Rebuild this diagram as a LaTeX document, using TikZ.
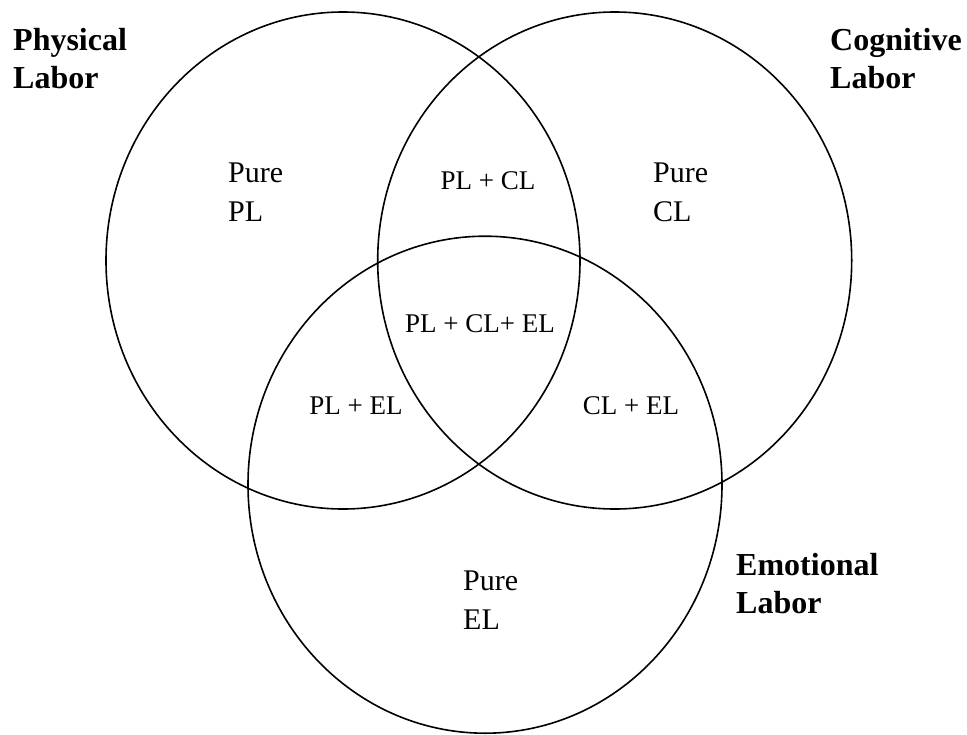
\documentclass[tikz,border=0pt]{standalone}
\usepackage{fontspec}
\setmainfont{Liberation Serif}
\usetikzlibrary{shapes.geometric}
\begin{document}
\begin{tikzpicture}[x=1pt,y=-1pt,
  setshape/.style={draw, ellipse, line width=1.6pt, inner sep=0pt,
    minimum width=474pt, minimum height=497pt},
  setname/.style={anchor=base west, inner sep=0pt, align=left,
    font=\bfseries\fontsize{32}{38}\selectfont},
  puretext/.style={anchor=base west, inner sep=0pt, align=left,
    font=\fontsize{30}{39}\selectfont},
  overlap/.style={anchor=base, inner sep=0pt,
    font=\fontsize{27}{32}\selectfont}]
  \useasboundingbox (0,0) rectangle (967,734);

  % the three labor sets
  \node[setshape] (phys) at (343,260.5) {};
  \node[setshape] (cog)  at (614.7,260.5) {};
  \node[setshape] (emo)  at (485,484.7) {};

  % set names (placed by the baseline of their last line)
  \node[setname] (physname) at (13,88)  {Physical\\Labor};
  \node[setname] (cogname)  at (830,88) {Cognitive\\Labor};
  \node[setname] (emoname)  at (736,613) {Emotional\\Labor};

  % single-set regions
  \node[puretext] (purepl) at (228,221) {Pure\\PL};
  \node[puretext] (purecl) at (653,221) {Pure\\CL};
  \node[puretext] (pureel) at (463,629) {Pure\\EL};

  % overlap regions
  \node[overlap] (plcl)   at (488,189) {PL + CL};
  \node[overlap] (plclel) at (480,332) {PL + CL+ EL};
  \node[overlap] (plel)   at (356,414) {PL + EL};
  \node[overlap] (clel)   at (631,414) {CL + EL};
\end{tikzpicture}
\end{document}
